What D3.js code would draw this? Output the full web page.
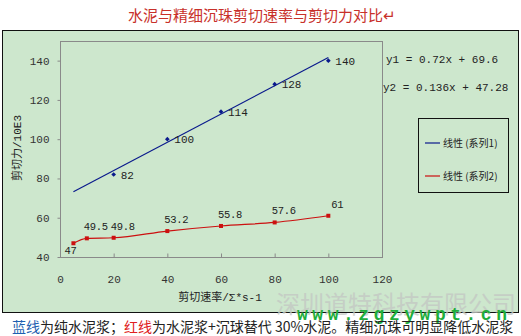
<html>

<head>
    <script src="https://d3js.org/d3.v7.min.js"></script>
    <style>
        body { margin: 0; background: #fff; }
        text { font-family: "Liberation Mono", "DejaVu Sans Mono", "Noto Sans CJK SC", monospace; }
        .cjk { font-family: "Noto Sans CJK SC", sans-serif; }
    </style>
</head>

<body>
    <svg id="chartArea" width="521" height="336"></svg>
    <script>
        // data
        const blueX = [20, 40, 60, 80, 100];
        const blueY = [82, 100, 114, 128, 140];
        const redX = [5, 10, 20, 40, 60, 80, 100];
        const redY = [47, 49.5, 49.8, 53.2, 55.8, 57.6, 61];
        const trend1 = { slope: 0.72, intercept: 69.6, from: 5, to: 100 };
        const xTicks = [0, 20, 40, 60, 80, 100, 120];
        const yTicks = [40, 60, 80, 100, 120, 140];
        const equations = ["y1 = 0.72x + 69.6", "y2 = 0.136x + 47.28"];
        const legendLabels = ["线性 (系列1)", "线性 (系列2)"];

        const svg = d3.select("#chartArea");
        const bg = "#cde7cd";
        const blue = "#0a1a8c";
        const red = "#cc1010";

        // title
        svg.append("text").attr("class", "cjk")
            .attr("x", 262).attr("y", 21)
            .attr("text-anchor", "middle")
            .attr("font-size", 15).attr("fill", "#c8302a")
            .text("水泥与精细沉珠剪切速率与剪切力对比↵");

        // outer chart box
        svg.append("rect")
            .attr("x", 2.5).attr("y", 30.5).attr("width", 516).attr("height", 282)
            .attr("fill", bg).attr("stroke", "#111").attr("stroke-width", 1);

        const plot = { left: 60, top: 41, right: 382, bottom: 257 };

        const x = d3.scaleLinear().domain([0, 120]).range([plot.left, plot.right]);
        const y = d3.scaleLinear().domain([40, 150]).range([plot.bottom, plot.top]);

        // plot area border
        svg.append("rect")
            .attr("x", plot.left + 0.5).attr("y", plot.top + 0.5)
            .attr("width", plot.right - plot.left).attr("height", plot.bottom - plot.top)
            .attr("fill", "none").attr("stroke", "#8a8a8a");

        // y axis
        const leftAxis = d3.axisLeft(y).tickValues(yTicks).tickSize(3).tickPadding(8);
        const gy = svg.append("g")
            .attr("transform", `translate(${plot.left + 0.5},0)`)
            .call(leftAxis);
        gy.select(".domain").remove();
        gy.selectAll("line").attr("stroke", "#8a8a8a");
        gy.selectAll("text").attr("font-size", 11).attr("fill", "#333")
            .style("font-family", "'Liberation Mono', monospace");

        // x axis (ticks inward)
        const bottomAxis = d3.axisBottom(x).tickValues(xTicks).tickSize(-4).tickPadding(18);
        const gx = svg.append("g")
            .attr("transform", `translate(0,${plot.bottom + 0.5})`)
            .call(bottomAxis);
        gx.select(".domain").remove();
        gx.selectAll("line").attr("stroke", "#8a8a8a");
        gx.selectAll("text").attr("font-size", 11).attr("fill", "#333")
            .style("font-family", "'Liberation Mono', monospace");

        // axis titles
        svg.append("text")
            .attr("x", 220).attr("y", 301)
            .attr("text-anchor", "middle").attr("font-size", 11).attr("fill", "#222")
            .text("剪切速率/Σ*s-1");
        svg.append("text")
            .attr("transform", "translate(21,148) rotate(-90)")
            .attr("text-anchor", "middle").attr("font-size", 11).attr("fill", "#222")
            .text("剪切力/10E3");

        // blue trendline
        svg.append("line")
            .attr("x1", x(trend1.from)).attr("y1", y(trend1.slope * trend1.from + trend1.intercept))
            .attr("x2", x(trend1.to)).attr("y2", y(trend1.slope * trend1.to + trend1.intercept))
            .attr("stroke", blue).attr("stroke-width", 1.2);

        const blueData = blueX.map((d, i) => ({ x: d, y: blueY[i] }));
        const redData = redX.map((d, i) => ({ x: d, y: redY[i] }));

        svg.selectAll(".bm").data(blueData).join("path")
            .attr("class", "bm")
            .attr("d", d3.symbol(d3.symbolDiamond2, 14))
            .attr("transform", d => `translate(${x(d.x)},${y(d.y)})`)
            .attr("fill", blue);
        svg.selectAll(".bl").data(blueData).join("text")
            .attr("class", "bl")
            .attr("x", d => x(d.x) + 7).attr("y", d => y(d.y) + 4)
            .attr("font-size", 11).attr("fill", "#222")
            .text(d => d.y);

        // red series line
        const lineGen = d3.line().x(d => x(d.x)).y(d => y(d.y)).curve(d3.curveMonotoneX);
        svg.append("path")
            .attr("d", lineGen(redData))
            .attr("fill", "none").attr("stroke", red).attr("stroke-width", 1.2);
        svg.selectAll(".rm").data(redData).join("rect")
            .attr("class", "rm")
            .attr("x", d => x(d.x) - 2).attr("y", d => y(d.y) - 2)
            .attr("width", 4).attr("height", 4)
            .attr("fill", red);
        svg.selectAll(".rl").data(redData).join("text")
            .attr("class", "rl")
            .attr("x", (d, i) => i === 0 ? x(d.x) - 3 : x(d.x) + 9)
            .attr("y", (d, i) => i === 0 ? y(d.y) + 11 : y(d.y) - 8)
            .attr("text-anchor", "middle")
            .attr("font-size", 10.5).attr("letter-spacing", -0.3).attr("fill", "#222")
            .text(d => d.y);

        // equations
        svg.selectAll(".eq").data(equations).join("text")
            .attr("class", "eq")
            .attr("x", (d, i) => i === 0 ? 386 : 383)
            .attr("y", (d, i) => 63 + i * 28)
            .attr("font-size", 11).attr("fill", "#222")
            .text(d => d);

        // legend
        svg.append("rect")
            .attr("x", 418.5).attr("y", 118.5).attr("width", 90).attr("height", 74)
            .attr("fill", "none").attr("stroke", "#111");
        const lg = svg.selectAll(".lg").data(legendLabels).join("g")
            .attr("class", "lg")
            .attr("transform", (d, i) => `translate(425,${143 + i * 33})`);
        lg.append("line")
            .attr("x1", 0).attr("x2", 15)
            .attr("stroke", (d, i) => i === 0 ? blue : red).attr("stroke-width", 1.2);
        lg.append("text").attr("class", "cjk")
            .attr("x", 18).attr("y", 4)
            .attr("font-size", 10).attr("fill", "#222")
            .text(d => d);

        // watermark
        svg.append("text").attr("class", "cjk")
            .attr("x", 276).attr("y", 313)
            .attr("font-size", 24).attr("fill", "#c4c9c4").attr("opacity", 0.8)
            .attr("textLength", 240)
            .text("深圳道特科技有限公司");
        svg.append("text")
            .attr("x", 297).attr("y", 320)
            .attr("font-size", 18).attr("font-weight", "bold").attr("fill", "#1fae3c")
            .attr("textLength", 210)
            .text("www.zgzywpt.cn");

        // caption
        const cap = svg.append("text").attr("class", "cjk")
            .attr("x", 12).attr("y", 332)
            .attr("font-size", 14).attr("fill", "#222");
        cap.append("tspan").attr("fill", "#1e5fb0").text("蓝线");
        cap.append("tspan").text("为纯水泥浆；");
        cap.append("tspan").attr("fill", "#e02020").text("红线");
        cap.append("tspan").text("为水泥浆+沉球替代 30%水泥。精细沉珠可明显降低水泥浆");
    </script>
</body>

</html>
